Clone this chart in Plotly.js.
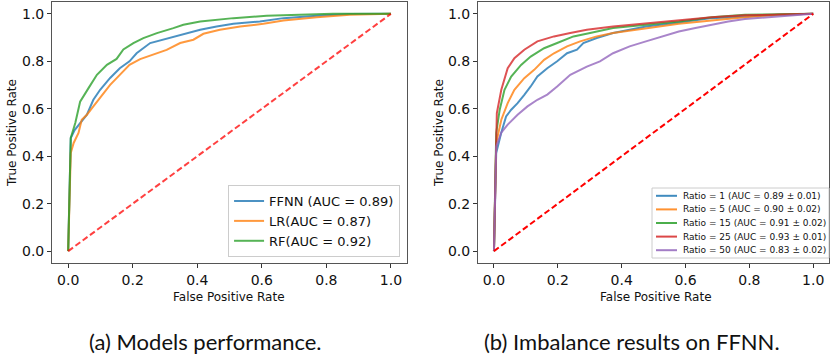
<!DOCTYPE html>
<html>
<head>
<meta charset="utf-8">
<script src="https://cdn.plot.ly/plotly-3.0.1.min.js"></script>
<style>html,body{margin:0;padding:0;background:#fff;}#chart{width:830px;height:357px;}</style>
</head>
<body>
<div id="chart"></div>
<script>
// ---- Panel (a): model ROC curves ----
const ffnnFpr = [0, 0.008, 0.02, 0.037, 0.058, 0.078, 0.099, 0.13, 0.16, 0.19, 0.212, 0.254, 0.285, 0.326, 0.367, 0.409, 0.46, 0.512, 0.594, 0.667, 0.77, 0.873, 1];
const ffnnTpr = [0, 0.477, 0.51, 0.54, 0.575, 0.638, 0.68, 0.73, 0.771, 0.8, 0.834, 0.877, 0.888, 0.902, 0.919, 0.933, 0.947, 0.958, 0.968, 0.982, 0.992, 0.999, 1];
const lrFpr = [0, 0.004, 0.008, 0.017, 0.032, 0.042, 0.058, 0.078, 0.099, 0.13, 0.16, 0.19, 0.223, 0.264, 0.305, 0.347, 0.388, 0.419, 0.47, 0.533, 0.605, 0.667, 0.77, 0.873, 1];
const lrTpr = [0, 0.25, 0.414, 0.456, 0.498, 0.554, 0.575, 0.61, 0.645, 0.701, 0.743, 0.785, 0.809, 0.827, 0.848, 0.877, 0.891, 0.916, 0.933, 0.947, 0.958, 0.972, 0.986, 0.996, 1];
const rfFpr = [0, 0.008, 0.022, 0.037, 0.063, 0.089, 0.12, 0.15, 0.171, 0.202, 0.233, 0.275, 0.326, 0.357, 0.409, 0.512, 0.615, 0.718, 0.82, 1];
const rfTpr = [0, 0.477, 0.54, 0.63, 0.687, 0.743, 0.785, 0.81, 0.85, 0.877, 0.898, 0.919, 0.94, 0.954, 0.968, 0.982, 0.992, 0.996, 1.0, 1];
const modelNames = ["FFNN (AUC = 0.89)", "LR(AUC = 0.87)", "RF(AUC = 0.92)"];

// ---- Panel (b): imbalance ratios on FFNN ----
const r1Fpr = [0, 0.007, 0.023, 0.038, 0.054, 0.074, 0.095, 0.115, 0.136, 0.167, 0.198, 0.229, 0.26, 0.28, 0.322, 0.373, 0.425, 0.476, 0.579, 0.682, 0.786, 0.889, 1];
const r1Tpr = [0, 0.414, 0.5, 0.568, 0.596, 0.624, 0.659, 0.694, 0.736, 0.771, 0.8, 0.834, 0.849, 0.877, 0.898, 0.919, 0.933, 0.947, 0.964, 0.982, 0.989, 0.996, 1];
const r5Fpr = [0, 0.007, 0.023, 0.043, 0.064, 0.095, 0.126, 0.157, 0.188, 0.229, 0.27, 0.322, 0.373, 0.476, 0.579, 0.682, 0.786, 0.889, 1];
const r5Tpr = [0, 0.456, 0.554, 0.624, 0.68, 0.729, 0.764, 0.806, 0.834, 0.863, 0.884, 0.905, 0.919, 0.94, 0.958, 0.972, 0.986, 0.996, 1];
const r15Fpr = [0, 0.007, 0.018, 0.033, 0.054, 0.085, 0.115, 0.157, 0.198, 0.249, 0.301, 0.373, 0.476, 0.579, 0.682, 0.786, 1];
const r15Tpr = [0, 0.498, 0.596, 0.68, 0.736, 0.785, 0.82, 0.855, 0.877, 0.905, 0.919, 0.94, 0.954, 0.968, 0.986, 0.996, 1];
const r25Fpr = [0, 0.005, 0.009, 0.023, 0.043, 0.064, 0.095, 0.136, 0.188, 0.239, 0.291, 0.373, 0.476, 0.579, 0.682, 0.786, 1];
const r25Tpr = [0, 0.358, 0.582, 0.68, 0.771, 0.813, 0.849, 0.884, 0.905, 0.919, 0.933, 0.947, 0.961, 0.972, 0.986, 0.994, 1];
const r50Fpr = [0, 0.007, 0.023, 0.043, 0.074, 0.105, 0.136, 0.167, 0.198, 0.239, 0.291, 0.332, 0.373, 0.425, 0.476, 0.528, 0.579, 0.631, 0.682, 0.734, 0.786, 0.889, 1];
const r50Tpr = [0, 0.44, 0.5, 0.533, 0.575, 0.61, 0.638, 0.66, 0.694, 0.743, 0.778, 0.8, 0.834, 0.863, 0.884, 0.905, 0.926, 0.94, 0.954, 0.968, 0.978, 0.989, 1];
const ratioNames = ["Ratio = 1 (AUC = 0.89 \u00b1 0.01)", "Ratio = 5 (AUC = 0.90 \u00b1 0.02)", "Ratio = 15 (AUC = 0.91 \u00b1 0.02)", "Ratio = 25 (AUC = 0.93 \u00b1 0.01)", "Ratio = 50 (AUC = 0.83 \u00b1 0.02)"];

const diag = [0, 1];
const tickVals = [0, 0.2, 0.4, 0.6, 0.8, 1.0];
const tickText = ["0.0", "0.2", "0.4", "0.6", "0.8", "1.0"];
const captions = ["(a) Models performance.", "(b) Imbalance results on FFNN."];

const colors = ["#1f77b4", "#ff7f0e", "#2ca02c", "#d62728", "#9467bd"];
const FONT = "DejaVu Sans, sans-serif";
const W = 830, H = 357;

function line(x, y, name, color, xa, ya, show) {
  return {x: x, y: y, name: name, type: "scatter", mode: "lines", xaxis: xa, yaxis: ya,
    showlegend: show, opacity: 0.8, line: {color: color, width: 2}, hoverinfo: "skip"};
}

const traces = [
  line(ffnnFpr, ffnnTpr, modelNames[0], colors[0], "x", "y", true),
  line(lrFpr, lrTpr, modelNames[1], colors[1], "x", "y", true),
  line(rfFpr, rfTpr, modelNames[2], colors[2], "x", "y", true),
  {x: diag, y: diag, type: "scatter", mode: "lines", xaxis: "x", yaxis: "y", showlegend: false,
   line: {color: "rgba(255,0,0,0.75)", width: 2, dash: "6px,3px"}, hoverinfo: "skip"},
  line(r1Fpr, r1Tpr, ratioNames[0], colors[0], "x2", "y2", false),
  line(r5Fpr, r5Tpr, ratioNames[1], colors[1], "x2", "y2", false),
  line(r15Fpr, r15Tpr, ratioNames[2], colors[2], "x2", "y2", false),
  line(r25Fpr, r25Tpr, ratioNames[3], colors[3], "x2", "y2", false),
  line(r50Fpr, r50Tpr, ratioNames[4], colors[4], "x2", "y2", false),
  {x: diag, y: diag, type: "scatter", mode: "lines", xaxis: "x2", yaxis: "y2", showlegend: false,
   line: {color: "#ff0000", width: 2, dash: "6px,3px"}, hoverinfo: "skip"}
];

function axis(domain, anchor) {
  return {domain: domain, anchor: anchor, range: [-0.05, 1.05], showgrid: false, zeroline: false,
    showline: true, mirror: true, linecolor: "#555", linewidth: 1,
    ticks: "outside", ticklen: 4, tickwidth: 1, tickcolor: "#333",
    tickvals: tickVals, ticktext: tickText, tickfont: {family: FONT, size: 14, color: "#111"}, fixedrange: true};
}

// Compact legend for panel (b) (matplotlib-style tight rows)
const shapes = [];
const annotations = [];
const lgLeft = 652, lgRight = 829, lgTop = 188, rowH = 13.6;
shapes.push({type: "rect", xref: "paper", yref: "paper", layer: "above",
  x0: lgLeft / W, x1: lgRight / W, y0: 1 - (lgTop + ratioNames.length * rowH + 2) / H, y1: 1 - lgTop / H,
  line: {color: "#cccccc", width: 1}, fillcolor: "rgba(255,255,255,0.85)"});
ratioNames.forEach(function (name, i) {
  const yc = 1 - (lgTop + 1 + (i + 0.5) * rowH) / H;
  shapes.push({type: "line", xref: "paper", yref: "paper", layer: "above",
    x0: 656 / W, x1: 677 / W, y0: yc, y1: yc, line: {color: colors[i], width: 2}, opacity: 0.85});
  annotations.push({text: name, xref: "paper", yref: "paper", x: 681 / W, y: yc, showarrow: false,
    xanchor: "left", yanchor: "middle", font: {family: FONT, size: 9, color: "#111"}});
});

const titleFont = {family: FONT, size: 12, color: "#111"};
const capFont = {family: "Lato, sans-serif", size: 22, color: "#111"};
annotations.push(
  {text: "False Positive Rate", xref: "paper", yref: "paper", x: 229 / W, y: 1 - 297 / H, showarrow: false,
   xanchor: "center", yanchor: "middle", font: titleFont},
  {text: "False Positive Rate", xref: "paper", yref: "paper", x: 656 / W, y: 1 - 297 / H, showarrow: false,
   xanchor: "center", yanchor: "middle", font: titleFont},
  {text: "True Positive Rate", xref: "paper", yref: "paper", x: 12 / W, y: 1 - 133 / H, showarrow: false,
   textangle: -90, xanchor: "center", yanchor: "middle", font: titleFont},
  {text: "True Positive Rate", xref: "paper", yref: "paper", x: 439 / W, y: 1 - 133 / H, showarrow: false,
   textangle: -90, xanchor: "center", yanchor: "middle", font: titleFont},
  {text: captions[0], xref: "paper", yref: "paper", x: 205 / W, y: 1 - 341 / H, showarrow: false,
   xanchor: "center", yanchor: "middle", font: capFont},
  {text: captions[1], xref: "paper", yref: "paper", x: 632 / W, y: 1 - 341 / H, showarrow: false,
   xanchor: "center", yanchor: "middle", font: capFont}
);

const yDom = [0.2633, 0.9944];
const layout = {
  width: W, height: H, margin: {l: 0, r: 0, t: 0, b: 0},
  paper_bgcolor: "#fff", plot_bgcolor: "#fff",
  font: {family: FONT, color: "#111"},
  xaxis: axis([0.0627, 0.4904], "y"),
  yaxis: axis(yDom, "x"),
  xaxis2: axis([0.5759, 0.999], "y2"),
  yaxis2: axis(yDom, "x2"),
  showlegend: true,
  legend: {x: 0.482, y: 0.28, xanchor: "right", yanchor: "bottom", bgcolor: "rgba(255,255,255,0.85)",
    bordercolor: "#ccc", borderwidth: 1, font: {family: FONT, size: 13, color: "#111"}, tracegroupgap: 0},
  shapes: shapes,
  annotations: annotations
};

Plotly.newPlot("chart", traces, layout, {displayModeBar: false, staticPlot: true});
</script>
</body>
</html>
